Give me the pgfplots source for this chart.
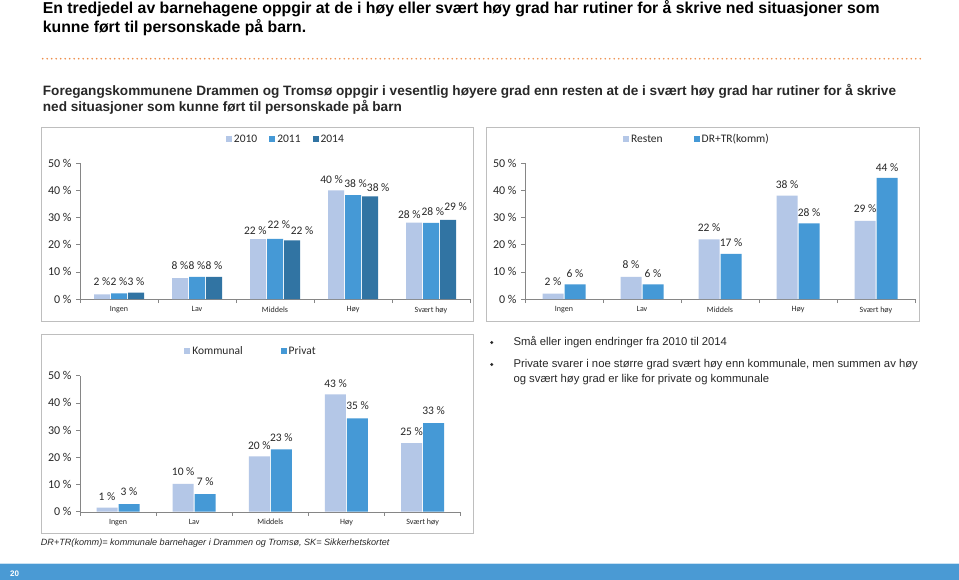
\documentclass[border=0pt]{standalone}
\usepackage{pgfplots}
\pgfplotsset{compat=1.18}
\usepackage{fontspec}
\setmainfont{Liberation Sans}
\newfontfamily\carlito{Carlito}
\definecolor{cA}{RGB}{180,199,231}
\definecolor{cB}{RGB}{69,153,214}
\definecolor{cC}{RGB}{49,116,163}
\definecolor{axgray}{RGB}{134,134,134}
\definecolor{boxgray}{RGB}{190,190,190}
\definecolor{txt}{RGB}{40,40,40}
\definecolor{dotorange}{RGB}{238,140,72}
\definecolor{footblue}{RGB}{74,154,212}
\pgfplotsset{
  mychart/.style={
    scale only axis, height=136pt,
    ymin=0, ymax=50, xmin=-0.5, xmax=4.5,
    axis lines=left, axis line style={draw=axgray,-},
    ytick={0,10,20,30,40,50},
    yticklabels={0 \%,10 \%,20 \%,30 \%,40 \%,50 \%},
    xtick={0,1,2,3,4},
    xticklabels={Ingen,Lav,Middels,Høy,Svært høy},
    minor xtick={-0.5,0.5,1.5,2.5,3.5,4.5},
    tick align=outside, major tick length=4pt, minor tick length=4pt,
    tick style={draw=axgray, line width=0.6pt},
    major x tick style={draw=none},
    yticklabel style={font=\carlito\fontsize{12}{14}\selectfont, text=txt, xshift=-1pt},
    xticklabel style={font=\carlito\fontsize{8}{9}\selectfont, text=txt},
    nodes near coords={\pgfplotspointmeta},
    visualization depends on={value \thisrow{dx}\as\dx},
    visualization depends on={value \thisrow{dy}\as\dy},
    every node near coord/.append style={font=\carlito\fontsize{11.5}{12}\selectfont, text=txt, inner sep=0pt, anchor=center, xshift=\dx pt, yshift=\dy pt},
    legend columns=-1,
    legend style={draw=none, fill=none, font=\carlito\fontsize{11.5}{13}\selectfont, text=txt},
    clip=false,
  }
}
\begin{document}
\begin{tikzpicture}[x=1pt,y=1pt]
\fill[white] (0,0) rectangle (959,-580);
\path[use as bounding box] (0,0) rectangle (959,-580);
% titles
\node[anchor=base west, inner sep=0, text=black, font=\bfseries\fontsize{15.8}{18}\selectfont] at (42.7,-13.5) {En tredjedel av barnehagene oppgir at de i høy eller svært høy grad har rutiner for å skrive ned situasjoner som};
\node[anchor=base west, inner sep=0, text=black, font=\bfseries\fontsize{15.8}{18}\selectfont] at (42.7,-32.5) {kunne ført til personskade på barn.};
\foreach \i in {0,...,195} \fill[dotorange] (42.7+\i*4.5,-58.7) circle (0.9);
\node[anchor=base west, inner sep=0, text=txt, font=\bfseries\fontsize{13.6}{16}\selectfont] at (42.7,-95.5) {Foregangskommunene Drammen og Tromsø oppgir i vesentlig høyere grad enn resten at de i svært høy grad har rutiner for å skrive};
\node[anchor=base west, inner sep=0, text=txt, font=\bfseries\fontsize{13.6}{16}\selectfont] at (42.7,-111.5) {ned situasjoner som kunne ført til personskade på barn};
% boxes
\draw[boxgray, line width=0.8] (41.7,-127) rectangle (473.3,-321.7);
\draw[boxgray, line width=0.8] (486.7,-127) rectangle (919,-321.7);
\draw[boxgray, line width=0.8] (41.7,-334.3) rectangle (473.3,-533.3);
% chart 1
\begin{axis}[mychart, at={(80pt,-299pt)}, anchor=south west, width=390pt,
  ybar=1pt, bar width=16pt,
  legend style={at={(0.528,1.176)}, anchor=center, /tikz/every even column/.append style={column sep=10pt}},
  legend image code/.code={\fill[#1] (0pt,-3pt) rectangle (6pt,3pt);}]
\addplot[fill=cA, draw=none, point meta=explicit symbolic] table[col sep=comma, x=x, y=y, meta=l] {
x,y,l,dx,dy
0,1.7,2 \%,0,12.5
1,7.7,8 \%,0,12
2,22.0,22 \%,-2.7,8.5
3,39.9,40 \%,-4.4,11.3
4,28.1,28 \%,-4.7,8
};
\addplot[fill=cB, draw=none, point meta=explicit symbolic] table[col sep=comma, x=x, y=y, meta=l] {
x,y,l,dx,dy
0,2.1,2 \%,0,12
1,8.1,8 \%,0,11.5
2,22.1,22 \%,3.8,14.7
3,38.2,38 \%,2.5,11.7
4,28.0,28 \%,1.8,11.3
};
\addplot[fill=cC, draw=none, point meta=explicit symbolic] table[col sep=comma, x=x, y=y, meta=l] {
x,y,l,dx,dy
0,2.3,3 \%,0,11.5
1,8.1,8 \%,0,11.5
2,21.6,22 \%,10,9.3
3,37.7,38 \%,8.2,8.5
4,29.1,29 \%,7.6,13
};
\legend{2010,2011,2014}
\end{axis}
% chart 2
\begin{axis}[mychart, at={(525pt,-299pt)}, anchor=south west, width=390pt,
  ybar=1pt, bar width=21pt,
  legend style={at={(0.441,1.176)}, anchor=center, /tikz/every even column/.append style={column sep=29pt}},
  legend image code/.code={\fill[#1] (0pt,-3pt) rectangle (6pt,3pt);}]
\addplot[fill=cA, draw=none, point meta=explicit symbolic] table[col sep=comma, x=x, y=y, meta=l] {
x,y,l,dx,dy
0,2.0,2 \%,0,12
1,8.1,8 \%,0,12
2,21.9,22 \%,0,12
3,38.0,38 \%,0,11
4,28.7,29 \%,0,12
};
\addplot[fill=cB, draw=none, point meta=explicit symbolic] table[col sep=comma, x=x, y=y, meta=l] {
x,y,l,dx,dy
0,5.4,6 \%,0,11
1,5.4,6 \%,0,11
2,16.6,17 \%,0,11.7
3,27.8,28 \%,0,11
4,44.5,44 \%,0,10.7
};
\legend{Resten,DR+TR(komm)}
\end{axis}
% chart 3
\begin{axis}[mychart, at={(80pt,-511.7pt)}, anchor=south west, width=380.7pt,
  ybar=1pt, bar width=21pt,
  legend style={at={(0.449,1.182)}, anchor=center, /tikz/every even column/.append style={column sep=36pt}},
  legend image code/.code={\fill[#1] (0pt,-3pt) rectangle (6pt,3pt);}]
\addplot[fill=cA, draw=none, point meta=explicit symbolic] table[col sep=comma, x=x, y=y, meta=l] {
x,y,l,dx,dy
0,1.5,1 \%,0,11
1,10.2,10 \%,0,12.3
2,20.3,20 \%,0,11.3
3,43.1,43 \%,0,11
4,25.2,25 \%,0,11.3
};
\addplot[fill=cB, draw=none, point meta=explicit symbolic] table[col sep=comma, x=x, y=y, meta=l] {
x,y,l,dx,dy
0,2.8,3 \%,0,12.3
1,6.5,7 \%,0,12.3
2,22.9,23 \%,0,11.7
3,34.3,35 \%,0,12.3
4,32.6,33 \%,0,12
};
\legend{Kommunal,Privat}
\end{axis}
% bullets
\fill[txt] (491.7,-342.5) circle (1.7);
\node[anchor=base west, inner sep=0, text=txt, font=\fontsize{11.3}{14}\selectfont] at (513.3,-345.7) {Små eller ingen endringer fra 2010 til 2014};
\fill[txt] (491.7,-364.5) circle (1.7);
\node[anchor=base west, inner sep=0, text=txt, font=\fontsize{11.3}{14}\selectfont] at (513.3,-367.7) {Private svarer i noe større grad svært høy enn kommunale, men summen av høy};
\node[anchor=base west, inner sep=0, text=txt, font=\fontsize{11.3}{14}\selectfont] at (513.3,-382.5) {og svært høy grad er like for private og kommunale};
% footnote
\node[anchor=base west, inner sep=0, text=txt, font=\itshape\fontsize{9.1}{11}\selectfont] at (40.7,-545) {DR+TR(komm)= kommunale barnehager i Drammen og Tromsø, SK= Sikkerhetskortet};
% footer bar
\fill[footblue] (0,-563) rectangle (959,-580);
\draw[white!70!footblue, line width=0.8] (0,-563.3) -- (959,-563.3);
\node[anchor=base west, inner sep=0, text=white, font=\bfseries\fontsize{8}{10}\selectfont] at (10,-576.7) {20};
\end{tikzpicture}
\end{document}
